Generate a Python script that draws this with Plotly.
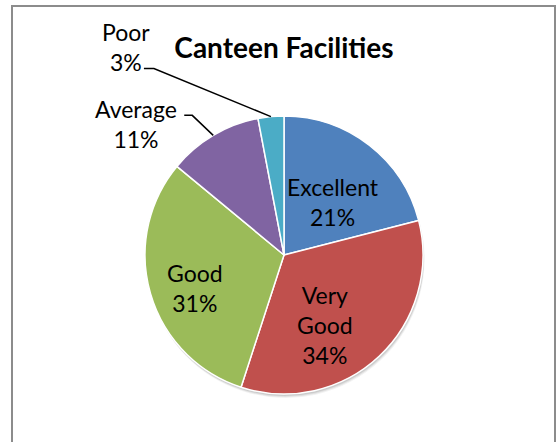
import math
import plotly.graph_objects as go

# ---- data ----
categories = ["Excellent", "Very Good", "Good", "Average", "Poor"]
display_names = ["Excellent", "Very<br>Good", "Good", "Average", "Poor"]
values = [21, 34, 31, 11, 3]
colors = ["#4F81BD", "#C0504D", "#9BBB59", "#8064A2", "#4BACC6"]
title_text = "Canteen Facilities"

W, H = 558, 442
FONT = "Lato"
LABEL_SIZE = 23

# pie geometry (pixels)
cx, cy, R = 284, 255, 139
dom_x = [(cx - R) / W, (cx + R) / W]
dom_y = [(H - cy - R) / H, (H - cy + R) / H]

total = sum(values)
texts = [f"{d}<br>{v / total:.0%}" for d, v in zip(display_names, values)]

fig = go.Figure()

# soft shadow layers
for off, alpha in [(4, 0.05), (3, 0.07), (2, 0.09)]:
    fig.add_trace(go.Pie(
        values=values, labels=categories, sort=False, direction="clockwise",
        rotation=0, textinfo="none", hoverinfo="skip", showlegend=False,
        marker=dict(colors=[f"rgba(0,0,0,{alpha})"] * len(values), line=dict(width=0)),
        domain=dict(x=[dom_x[0] + off / W * 0.4, dom_x[1] + off / W * 0.4],
                    y=[dom_y[0] - off / H, dom_y[1] - off / H]),
    ))

fig.add_trace(go.Pie(
    values=values, labels=categories, sort=False, direction="clockwise",
    rotation=0, textinfo="none", text=texts, hoverinfo="text",
    marker=dict(colors=colors, line=dict(color="white", width=1.5)),
    domain=dict(x=dom_x, y=dom_y), showlegend=False,
))

# label placement (style): inside labels by radius fraction / angle tweak,
# outside labels with elbow leader lines anchored to slice mid-angle edge points
inside_place = {
    "Excellent": dict(rf=0.52, dth=5),
    "Very Good": dict(rf=0.58, dth=13),
    "Good": dict(rf=0.68, dth=-4),
}
outside_place = {
    "Average": dict(lab=(-77, -11), elbow=(-21, -20), stub=8),
    "Poor": dict(lab=(-145, -70), elbow=(-117, -48), stub=10),
}

shapes = []
annotations = []
cum = 0
for cat, v, txt in zip(categories, values, texts):
    mid = (cum + v / 2) / total * 2 * math.pi
    cum += v
    if cat in inside_place:
        p = inside_place[cat]
        a = mid + math.radians(p["dth"])
        lx = cx + p["rf"] * R * math.sin(a)
        ly = cy - p["rf"] * R * math.cos(a)
    else:
        px = cx + R * math.sin(mid)
        py = cy - R * math.cos(mid)
        o = outside_place[cat]
        ex, ey = px + o["elbow"][0], py + o["elbow"][1]
        sx = ex - o["stub"]
        path = f"M {px / W} {1 - py / H} L {ex / W} {1 - ey / H} L {sx / W} {1 - ey / H}"
        shapes.append(dict(type="path", xref="paper", yref="paper", path=path,
                           line=dict(color="black", width=1.5)))
        lx, ly = px + o["lab"][0], py + o["lab"][1]
    annotations.append(dict(x=lx / W, y=1 - ly / H, xref="paper", yref="paper",
                            text=txt, showarrow=False, xanchor="center", yanchor="middle",
                            align="center",
                            font=dict(family=FONT, size=LABEL_SIZE, color="black")))

# frame
shapes.append(dict(type="rect", xref="paper", yref="paper",
                   x0=12 / W, x1=555 / W, y0=-0.05, y1=1 - 6 / H,
                   line=dict(color="#8C8C8C", width=2), fillcolor="rgba(0,0,0,0)"))

fig.update_layout(
    width=W, height=H,
    margin=dict(l=0, r=0, t=0, b=0),
    paper_bgcolor="white", plot_bgcolor="white",
    title=dict(text=f"<b>{title_text}</b>", x=cx / W, xanchor="center",
               y=1 - 48 / H, yanchor="middle",
               font=dict(family=FONT, size=28, color="black")),
    shapes=shapes, annotations=annotations,
)

fig.write_html("out.html", config={"displayModeBar": False},
               post_script="document.body.style.margin='0';")
